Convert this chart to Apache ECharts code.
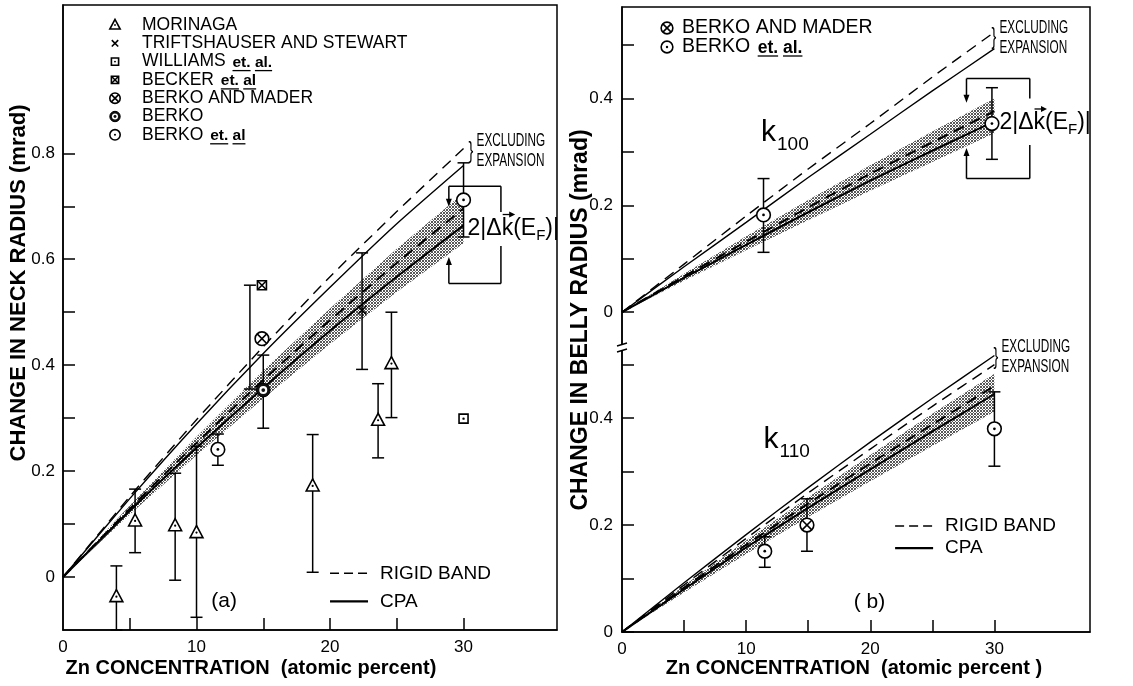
<!DOCTYPE html>
<html><head><meta charset="utf-8">
<script src="https://cdn.jsdelivr.net/npm/echarts@6/dist/echarts.min.js"></script>
<style>html,body{margin:0;padding:0;background:#fff}#c{width:1133px;height:686px}</style>
</head><body><div id="c"></div>
<script>
// ---------------- DATA ----------------
const conc = [0, 5, 10, 15, 20, 25, 30];
// (a) neck radius curves
const neckRigidExcl = [0, 0.152, 0.297, 0.435, 0.567, 0.690, 0.809];
const neckCpaExcl   = [0, 0.148, 0.289, 0.422, 0.547, 0.667, 0.777];
const neckRigid     = [0, 0.129, 0.253, 0.372, 0.485, 0.593, 0.696];
const neckCpa       = [0, 0.125, 0.244, 0.357, 0.465, 0.567, 0.664];
const neckBandHi    = [0, 0.135, 0.265, 0.390, 0.507, 0.620, 0.725];
const neckBandLo    = [0, 0.118, 0.230, 0.337, 0.440, 0.538, 0.630];
// (b) k100 belly radius curves
const k100RigidExcl = [0, 0.090, 0.180, 0.268, 0.353, 0.440, 0.524];
const k100CpaExcl   = [0, 0.085, 0.168, 0.252, 0.333, 0.414, 0.493];
const k100Rigid     = [0, 0.067, 0.132, 0.196, 0.259, 0.318, 0.376];
const k100Cpa       = [0, 0.064, 0.126, 0.187, 0.246, 0.302, 0.357];
const k100BandHi    = [0, 0.072, 0.142, 0.210, 0.275, 0.338, 0.400];
const k100BandLo    = [0, 0.059, 0.116, 0.172, 0.227, 0.281, 0.335];
// (b) k110 belly radius curves
const k110CpaExcl   = [0, 0.092, 0.182, 0.270, 0.355, 0.437, 0.517];
const k110RigidExcl = [0, 0.088, 0.175, 0.260, 0.342, 0.422, 0.500];
const k110Rigid     = [0, 0.083, 0.163, 0.240, 0.315, 0.388, 0.460];
const k110Cpa       = [0, 0.080, 0.158, 0.232, 0.304, 0.375, 0.445];
const k110BandHi    = [0, 0.087, 0.171, 0.252, 0.331, 0.408, 0.483];
const k110BandLo    = [0, 0.074, 0.146, 0.215, 0.282, 0.348, 0.412];

// experimental points [x, y]
const morinaga      = [[4.0, -0.037], [5.4, 0.106], [8.4, 0.097], [10.0, 0.084], [18.7, 0.172], [23.6, 0.296], [24.6, 0.403]];
const morinagaErr   = [[4.0, -0.1, 0.021], [5.4, 0.046, 0.166], [8.4, -0.006, 0.196], [10.0, -0.076, 0.247], [18.7, 0.009, 0.269], [23.6, 0.225, 0.365], [24.6, 0.301, 0.500]];
const triftshauser  = [[22.4, 0.504]];
const triftErr      = [[22.4, 0.392, 0.612], [14.0, 0.355, 0.551]];
const williams      = [[30.0, 0.299]];
const becker        = [[14.9, 0.551]];
const berkoMaderA   = [[14.9, 0.450]];
const berkoA        = [[15.0, 0.353]];
const berkoAErr     = [[15.0, 0.281, 0.419]];
const berkoEtAlA    = [[11.6, 0.241], [30.0, 0.712]];
const berkoEtAlAErr = [[11.6, 0.211, 0.270], [30.0, 0.642, 0.782]];
const k100BerkoEtAl = [[11.4, 0.182], [29.8, 0.353]];
const k100BerkoErr  = [[11.4, 0.112, 0.250], [29.8, 0.286, 0.420]];
const k110BerkoEtAl = [[11.5, 0.151], [30.0, 0.380]];
const k110BerkoErr  = [[11.5, 0.121, 0.178], [30.0, 0.310, 0.449]];
const k110BerkoMader    = [[14.9, 0.200]];
const k110BerkoMaderErr = [[14.9, 0.151, 0.249]];

// ticks / labels
const xTicks = [5, 10, 15, 20, 25, 30];
const xLabels = [0, 10, 20, 30];
const neckTicks = [0, 0.1, 0.2, 0.3, 0.4, 0.5, 0.6, 0.7, 0.8];
const neckLabels = [0, 0.2, 0.4, 0.6, 0.8];
const bellyTicks = [0, 0.1, 0.2, 0.3, 0.4, 0.5];
const bellyLabels = [0, 0.2, 0.4];

const legendA = [['tri', 'MORINAGA', ''], ['x', 'TRIFTSHAUSER AND STEWART', ''], ['sqdot', 'WILLIAMS', 'et. al.'],
  ['sqx', 'BECKER', 'et. al'], ['cx', 'BERKO AND MADER', ''], ['bull', 'BERKO', ''], ['cdot', 'BERKO', 'et. al']];
const legendB = [['cx', 'BERKO AND MADER', ''], ['cdot', 'BERKO', 'et. al.']];

// ---------------- HELPERS ----------------
const FONT = "'Liberation Sans', Arial, sans-serif";
const mctx = document.createElement('canvas').getContext('2d');
function tw(t, size, weight) { mctx.font = (weight || 'normal') + ' ' + size + 'px ' + FONT; return mctx.measureText(t).width; }

const pat = document.createElement('canvas');
pat.width = 3; pat.height = 3;
(function () { const g = pat.getContext('2d'); g.fillStyle = '#3a3a3a';
  [[0, 0], [2, 0], [1, 1], [0, 2], [2, 2]].forEach(p => g.fillRect(p[0], p[1], 1, 1)); })();

function sym(kind, x, y, s) {
  s = s || 1;
  const lw = 1.6;
  const L = (x1, y1, x2, y2) => ({ type: 'line', shape: { x1, y1, x2, y2 }, style: { stroke: '#000', lineWidth: lw } });
  const C = (r, fill, stroke, w) => ({ type: 'circle', shape: { cx: x, cy: y, r }, style: { fill, stroke: stroke || 'none', lineWidth: w || lw } });
  const R = d => ({ type: 'rect', shape: { x: x - d, y: y - d, width: 2 * d, height: 2 * d }, style: { fill: '#fff', stroke: '#000', lineWidth: lw } });
  switch (kind) {
    case 'tri': { const h = 7 * s; return [{ type: 'polygon', shape: { points: [[x, y - h], [x - h * 0.92, y + h * 0.72], [x + h * 0.92, y + h * 0.72]] }, style: { fill: '#fff', stroke: '#000', lineWidth: lw } }, C(1.1 * s, '#000')]; }
    case 'x': { const d = 4 * s; return [L(x - d, y - d, x + d, y + d), L(x - d, y + d, x + d, y - d)]; }
    case 'sqdot': { const d = 4.5 * s; return [R(d), C(1.2 * s, '#000')]; }
    case 'sqx': { const d = 4.5 * s; return [R(d), L(x - d, y - d, x + d, y + d), L(x - d, y + d, x + d, y - d)]; }
    case 'cx': { const r = 6.5 * s, d = r * 0.7; return [C(r, '#fff', '#000'), L(x - d, y - d, x + d, y + d), L(x - d, y + d, x + d, y - d)]; }
    case 'bull': return [C(6.5 * s, '#111', '#000', 1), C(3.8 * s, '#fff'), C(1.8 * s, '#111')];
    case 'cdot': return [C(6.5 * s, '#fff', '#000'), C(1.3 * s, '#000')];
  }
  return [];
}

function curve(xi, yi, ys, dashed, width) {
  return { type: 'line', xAxisIndex: xi, yAxisIndex: yi, data: conc.map((x, i) => [x, ys[i]]), symbol: 'none', smooth: 0.2,
    lineStyle: { color: '#000', width: width || 1.4, type: dashed ? [11, 7] : 'solid' }, z: 5, silent: true };
}
function band(xi, yi, hi, lo) {
  return { type: 'custom', xAxisIndex: xi, yAxisIndex: yi, data: [[0, 0]], z: 3, silent: true,
    renderItem(params, api) {
      const pts = conc.map((x, i) => api.coord([x, hi[i]])).concat(conc.map((x, i) => api.coord([x, lo[i]])).reverse());
      return { type: 'polygon', shape: { points: pts }, style: { fill: { image: pat, repeat: 'repeat' }, opacity: 0.85 } };
    } };
}
function markers(xi, yi, kind, pts, s) {
  return { type: 'custom', xAxisIndex: xi, yAxisIndex: yi, data: pts, z: 10, silent: true, clip: false,
    renderItem(params, api) { const p = api.coord([api.value(0), api.value(1)]); return { type: 'group', children: sym(kind, p[0], p[1], s || 1.05) }; } };
}
function errbars(xi, yi, rows) {
  return { type: 'custom', xAxisIndex: xi, yAxisIndex: yi, data: rows, z: 8, silent: true, encode: { x: 0, y: [1, 2] },
    renderItem(params, api) {
      const x = api.value(0); const a = api.coord([x, api.value(1)]), b = api.coord([x, api.value(2)]);
      const st = { stroke: '#000', lineWidth: 1.5 };
      return { type: 'group', children: [
        { type: 'line', shape: { x1: a[0], y1: a[1], x2: b[0], y2: b[1] }, style: st },
        { type: 'line', shape: { x1: a[0] - 6, y1: a[1], x2: a[0] + 6, y2: a[1] }, style: st },
        { type: 'line', shape: { x1: b[0] - 6, y1: b[1], x2: b[0] + 6, y2: b[1] }, style: st }] };
    } };
}

const axLine = { show: true, onZero: false, lineStyle: { color: '#000', width: 1.5 } };
const lbl = { color: '#000', fontSize: 17, fontFamily: FONT };
function xAx(gi, max, show) {
  return { type: 'value', gridIndex: gi, min: 0, max, show: show !== false, splitLine: { show: false },
    axisLine: axLine, axisTick: { inside: true, length: 12, customValues: xTicks, lineStyle: { color: '#000', width: 1.5 } },
    axisLabel: Object.assign({ customValues: xLabels, margin: 9 }, lbl) };
}
function yAx(gi, min, max, ticks, labels, margin) {
  return { type: 'value', gridIndex: gi, min, max, splitLine: { show: false },
    axisLine: axLine, axisTick: { inside: true, length: 12, customValues: ticks, lineStyle: { color: '#000', width: 1.5 } },
    axisLabel: Object.assign({ customValues: labels, margin, formatter: v => v === 0 ? '0' : v.toFixed(1) }, lbl) };
}

// ---------------- CHART ----------------
const chart = echarts.init(document.getElementById('c'));
chart.setOption({
  animation: false,
  backgroundColor: '#fff',
  grid: [
    { left: 63, top: 5, width: 494, height: 625, show: true, borderColor: '#000', borderWidth: 1.5 },
    { left: 622, top: 7, width: 468, height: 341 },
    { left: 622, top: 348, width: 468, height: 284 },
    { left: 622, top: 7, width: 468, height: 625, show: true, borderColor: '#000', borderWidth: 1.5 }
  ],
  xAxis: [xAx(0, 37), xAx(1, 37.7, false), xAx(2, 37.7), { type: 'value', gridIndex: 3, show: false, min: 0, max: 1 }],
  yAxis: [yAx(0, -0.1, 1.08, neckTicks, neckLabels, 8), yAx(1, -0.067, 0.571, bellyTicks, bellyLabels, 9),
    yAx(2, 0, 0.531, bellyTicks, bellyLabels, 9), { type: 'value', gridIndex: 3, show: false, min: 0, max: 1 }],
  series: [
    band(0, 0, neckBandHi, neckBandLo),
    curve(0, 0, neckRigidExcl, true), curve(0, 0, neckCpaExcl, false),
    curve(0, 0, neckRigid, true, 2), curve(0, 0, neckCpa, false, 2),
    band(1, 1, k100BandHi, k100BandLo),
    curve(1, 1, k100RigidExcl, true), curve(1, 1, k100CpaExcl, false),
    curve(1, 1, k100Rigid, true, 2), curve(1, 1, k100Cpa, false, 2),
    band(2, 2, k110BandHi, k110BandLo),
    curve(2, 2, k110RigidExcl, true), curve(2, 2, k110CpaExcl, false),
    curve(2, 2, k110Rigid, true, 2), curve(2, 2, k110Cpa, false, 2),
    errbars(0, 0, morinagaErr), errbars(0, 0, triftErr), errbars(0, 0, berkoAErr), errbars(0, 0, berkoEtAlAErr),
    errbars(1, 1, k100BerkoErr), errbars(2, 2, k110BerkoErr), errbars(2, 2, k110BerkoMaderErr),
    markers(0, 0, 'tri', morinaga, 1.0), markers(0, 0, 'x', triftshauser), markers(0, 0, 'sqdot', williams, 1.0),
    markers(0, 0, 'sqx', becker, 1.0), markers(0, 0, 'cx', berkoMaderA), markers(0, 0, 'bull', berkoA), markers(0, 0, 'cdot', berkoEtAlA),
    markers(1, 1, 'cdot', k100BerkoEtAl), markers(2, 2, 'cdot', k110BerkoEtAl), markers(2, 2, 'cx', k110BerkoMader)
  ]
});

// ---------------- ANNOTATIONS ----------------
const P = (gi, x, y) => chart.convertToPixel({ gridIndex: gi }, [x, y]);
const G = [];
function T(t, x, y, size, opt) {
  return Object.assign({ type: 'text', x, y, style: { text: t, fontSize: size, fontFamily: FONT, fill: '#000',
    textAlign: (opt && opt.align) || 'left', textVerticalAlign: 'middle', fontWeight: (opt && opt.weight) || 'normal' } }, opt && opt.el || {});
}
function Ln(x1, y1, x2, y2, w) { return { type: 'line', shape: { x1, y1, x2, y2 }, style: { stroke: '#000', lineWidth: w || 1.5 } }; }
function arrow(x, y1, y2) {
  const d = y2 > y1 ? 1 : -1;
  return [Ln(x, y1, x, y2 - d * 6), { type: 'polygon', shape: { points: [[x, y2], [x - 3, y2 - d * 8], [x + 3, y2 - d * 8]] }, style: { fill: '#000' } }];
}
function legendRows(rows, ix, tx, y0, step, size, s) {
  rows.forEach((r, i) => {
    const y = y0 + i * step;
    sym(r[0], ix, y, s).forEach(e => G.push(e));
    G.push(T(r[1], tx, y, size));
    if (r[2]) {
      const x0 = tx + tw(r[1] + ' ', size) + 2;
      G.push(T(r[2], x0, y + 1, size - 2, { weight: 'bold' }));
      const parts = r[2].split(' ');
      let xx = x0;
      parts.forEach(p => {
        const w = tw(p, size - 2, 'bold');
        G.push(Ln(xx, y + 9, xx + w, y + 9, 1.3));
        xx += w + tw(' ', size - 2, 'bold');
      });
    }
  });
}
legendRows(legendA, 115, 142, 25, 18.3, 17.5, 0.8);
legendRows(legendB, 667, 682, 28, 19, 19.5, 0.9);

function excl(px, py, size) {
  G.push({ type: 'text', x: px, y: py, style: { text: '}', fontSize: 24, fontFamily: FONT, fill: '#000', textVerticalAlign: 'middle' }, scaleX: 0.6 });
  G.push({ type: 'text', x: px + 8, y: py - 10, scaleX: 0.62, style: { text: 'EXCLUDING', fontSize: size, fontFamily: FONT, fill: '#000', textVerticalAlign: 'middle' } });
  G.push({ type: 'text', x: px + 8, y: py + 10, scaleX: 0.62, style: { text: 'EXPANSION', fontSize: size, fontFamily: FONT, fill: '#000', textVerticalAlign: 'middle' } });
}
let e = P(0, 30, (neckRigidExcl[6] + neckCpaExcl[6]) / 2); excl(e[0] + 5, e[1] - 6, 19);
e = P(1, 30, (k100RigidExcl[6] + k100CpaExcl[6]) / 2); excl(e[0] - 3, e[1] - 3, 19);
e = P(2, 30, (k110RigidExcl[6] + k110CpaExcl[6]) / 2); excl(e[0] - 1, e[1] - 3, 19);

function dk(x, y) {
  const f = 23, fs = 15;
  const a = '2|\u0394k(E', b = 'F', c = ')|';
  const wa = tw(a, f), wb = tw(b, fs), w2 = tw('2|\u0394', f), wk = tw('k', f);
  G.push(T(a, x, y, f), T(b, x + wa, y + 7, fs), T(c, x + wa + wb, y, f));
  G.push(Ln(x + w2 + 1, y - 14, x + w2 + wk, y - 14, 1.3));
  G.push({ type: 'polygon', shape: { points: [[x + w2 + wk + 2, y - 14], [x + w2 + wk - 4, y - 17], [x + w2 + wk - 4, y - 11]] }, style: { fill: '#000' } });
}
function bracket(gi, x1, x2, yTop, yTopTip, yBot, yBotTip, yRgtTop, yRgtBot, tx, ty) {
  const a = P(gi, x1, yTop), b = P(gi, x2, yTop), c = P(gi, x1, yBot), d = P(gi, x2, yBot);
  const tt = P(gi, x1, yTopTip), bt = P(gi, x1, yBotTip), r1 = P(gi, x2, yRgtTop), r2 = P(gi, x2, yRgtBot);
  G.push(Ln(a[0], a[1], b[0], b[1]), Ln(c[0], c[1], d[0], d[1]));
  G.push(Ln(b[0], b[1], r1[0], r1[1]), Ln(d[0], d[1], r2[0], r2[1]));
  arrow(a[0], a[1], tt[1]).forEach(z => G.push(z));
  arrow(c[0], c[1], bt[1]).forEach(z => G.push(z));
  const t = P(gi, tx, ty); dk(t[0], t[1]);
}
bracket(0, 28.9, 32.8, 0.738, 0.699, 0.554, 0.604, 0.689, 0.625, 30.3, 0.658);
bracket(1, 27.75, 32.85, 0.437, 0.392, 0.250, 0.307, 0.400, 0.313, 30.4, 0.354);

// k labels
function klab(gi, x, y, sub) {
  const p = P(gi, x, y);
  G.push(T('k', p[0], p[1], 30), T(sub, p[0] + tw('k', 30) + 1, p[1] + 12, 19));
}
klab(1, 11.2, 0.335, '100');
klab(2, 11.4, 0.36, '110');

// RIGID BAND / CPA keys
function keys(x, y1, y2) {
  G.push({ type: 'line', shape: { x1: x, y1, x2: x + 38, y2: y1 }, style: { stroke: '#000', lineWidth: 1.5, lineDash: [9, 5] } });
  G.push(Ln(x, y2, x + 38, y2, 2.2));
  G.push(T('RIGID BAND', x + 50, y1, 19), T('CPA', x + 50, y2, 19));
}
let k = P(0, 20, 0.007); keys(k[0], k[1], k[1] + 28);
k = P(2, 22.0, 0.198); keys(k[0], k[1], k[1] + 22);

// panel tags
let t = P(0, 12.0, -0.045); G.push(T('(a)', t[0] - 12, t[1], 21));
t = P(2, 19.8, 0.055); G.push(T('( b)', t[0] - 14, t[1], 21));

// axis titles
G.push(T('CHANGE IN NECK RADIUS (mrad)', 19, 283, 22, { weight: 'bold', align: 'center', el: { rotation: Math.PI / 2 } }));
G.push(T('CHANGE IN BELLY RADIUS (mrad)', 581, 320, 23, { weight: 'bold', align: 'center', el: { rotation: Math.PI / 2 } }));
G.push(T('Zn CONCENTRATION  (atomic percent)', 251, 668, 20, { weight: 'bold', align: 'center' }));
G.push(T('Zn CONCENTRATION  (atomic percent )', 854, 668, 20, { weight: 'bold', align: 'center' }));

// axis break mark on the right panel
const br = P(2, 0, 0.531);
G.push({ type: 'rect', shape: { x: br[0] - 2, y: br[1] - 4, width: 4, height: 7 }, style: { fill: '#fff' } });
G.push(Ln(br[0] - 5, br[1] - 2, br[0] + 5, br[1] - 5, 1.4), Ln(br[0] - 5, br[1] + 4, br[0] + 5, br[1] + 1, 1.4));

chart.setOption({ graphic: { elements: G.map(g => Object.assign({ z: 100 }, g)) } });
</script>
</body></html>
